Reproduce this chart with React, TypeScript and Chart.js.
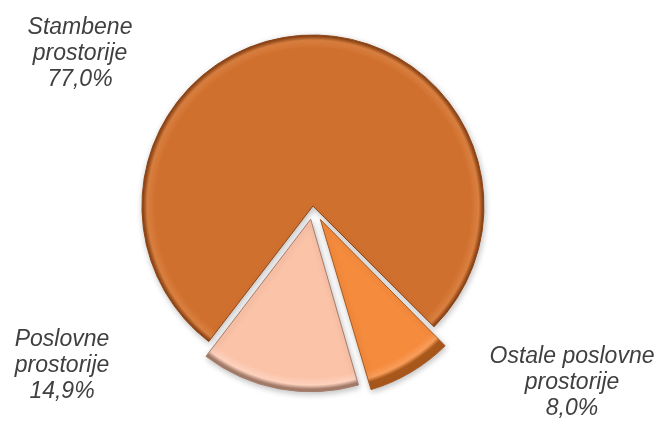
import React, { useEffect, useRef } from "react";
import { Chart, registerables } from "chart.js";

Chart.register(...registerables);

const categories = ["Stambene prostorije", "Ostale poslovne prostorije", "Poslovne prostorije"];
const values = [77.0, 8.0, 14.9];
const valueLabels = ["77,0%", "8,0%", "14,9%"];
const labelLines = [
  ["Stambene", "prostorije"],
  ["Ostale poslovne", "prostorije"],
  ["Poslovne", "prostorije"],
];

const baseColors = ["#D0702F", "#F58B3D", "#FBC3A8"];
const rimLight = ["#DA8040", "#F99D5A", "#FDD2BE"];
const rimDark = ["#8E4516", "#A9581C", "#A57C6A"];
const sliceOffsets = [4, 58, 50];
// label anchor offsets relative to pie center (layout only)
const labelAnchors = [
  { dx: -233, dy: -173 },
  { dx: 259, dy: 156 },
  { dx: -251, dy: 139 },
];

const labelPlugin = {
  id: "outerLabels",
  afterDatasetsDraw(chart: any) {
    const { ctx, chartArea } = chart;
    const cx = (chartArea.left + chartArea.right) / 2;
    const cy = (chartArea.top + chartArea.bottom) / 2;
    ctx.save();
    ctx.font = "italic 23px 'Liberation Sans', Arial, sans-serif";
    ctx.fillStyle = "#404040";
    ctx.textAlign = "center";
    ctx.textBaseline = "alphabetic";
    const lh = 26;
    categories.forEach((_, i) => {
      const lines = [...labelLines[i], valueLabels[i]];
      const a = labelAnchors[i];
      lines.forEach((t, k) => {
        ctx.fillText(t, cx + a.dx, cy + a.dy + k * lh);
      });
    });
    ctx.restore();
  },
};

const shadowPlugin = {
  id: "sliceShadow",
  beforeDatasetsDraw(chart: any) {
    const ctx = chart.ctx;
    ctx.save();
    ctx.shadowColor = "rgba(0,0,0,0.25)";
    ctx.shadowBlur = 6;
    ctx.shadowOffsetX = 1;
    ctx.shadowOffsetY = 2;
  },
  afterDatasetsDraw(chart: any) {
    chart.ctx.restore();
  },
};

export default function App() {
  const ref = useRef<HTMLCanvasElement | null>(null);
  useEffect(() => {
    document.body.style.margin = "0";
    const canvas = ref.current!;
    const radius = 170;
    const chart = new Chart(canvas, {
      type: "pie",
      data: {
        labels: categories,
        datasets: [
          {
            data: values,
            backgroundColor: (c: any) => {
              const i = c.dataIndex;
              const area = c.chart.chartArea;
              if (!area) return baseColors[i];
              const x = (area.left + area.right) / 2;
              const y = (area.top + area.bottom) / 2;
              const g = c.chart.ctx.createRadialGradient(x, y, 0, x, y, radius);
              g.addColorStop(0, baseColors[i]);
              g.addColorStop(0.93, baseColors[i]);
              g.addColorStop(0.975, rimLight[i]);
              g.addColorStop(1, rimDark[i]);
              return g;
            },
            borderColor: rimDark,
            borderWidth: 1,
            offset: sliceOffsets,
          },
        ],
      },
      options: {
        responsive: false,
        animation: false,
        rotation: -142.5,
        radius: radius,
        layout: { padding: { left: 0, right: 36, top: 0, bottom: 9 } },
        plugins: {
          legend: { display: false },
          tooltip: { enabled: false },
        },
      },
      plugins: [shadowPlugin, labelPlugin],
    } as any);
    return () => chart.destroy();
  }, []);
  return (
    <div style={{ width: 662, height: 423, background: "#fff" }}>
      <canvas ref={ref} width={662} height={423} style={{ width: 662, height: 423, display: "block" }} />
    </div>
  );
}
